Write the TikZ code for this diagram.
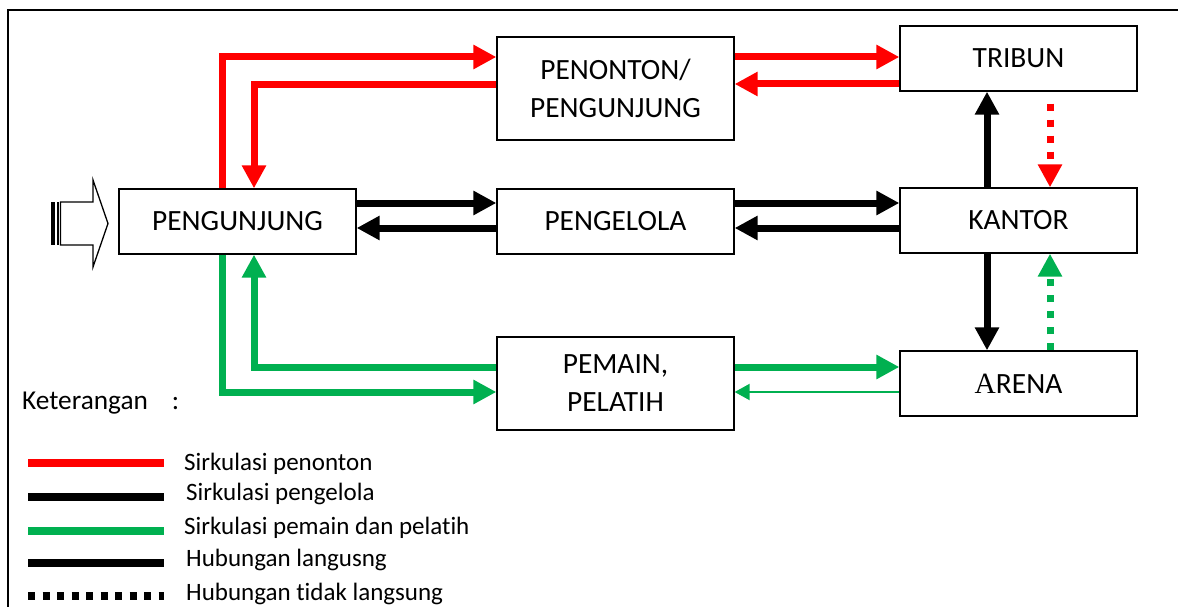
\documentclass[tikz,border=0pt]{standalone}
\usepackage{fontspec}
\setmainfont{Carlito}[Ligatures=NoCommon]
\newfontfamily\serifa{Liberation Serif}
\usetikzlibrary{arrows.meta}
\definecolor{xred}{RGB}{255,0,0}
\definecolor{xgreen}{RGB}{0,176,80}
\begin{document}
\begin{tikzpicture}[x=1pt,y=-1pt,
  box/.style={draw,line width=1.3pt,minimum width=237pt,inner sep=0pt,align=center,font=\fontsize{29.4}{38}\selectfont},
  flow/.style={line width=7pt,-{Triangle[length=23pt,width=23pt]}},
  thinflow/.style={line width=2pt,-{Triangle[length=15pt,width=16pt]}},
  dots/.style={line width=7pt,dash pattern=on 7pt off 9pt,-{Triangle[length=23pt,width=23pt]}},
  legline/.style={line width=8pt},
  legtext/.style={anchor=base west,inner sep=0pt,font=\fontsize{25}{30}\selectfont},
]
\useasboundingbox (0,0) rectangle (1178,607);
% frame
\draw[line width=1.3pt] (8,607) -- (8,10) -- (1178,10);

% boxes
\node[box,minimum height=65pt]  (pg) at (237.5,221.5) {PENGUNJUNG};
\node[box,minimum height=103pt] (pn) at (615.5,88.5) {PENONTON/\\PENGUNJUNG};
\node[box,minimum height=65pt]  (tr) at (1018.5,58.5) {TRIBUN};
\node[box,minimum height=65pt]  (pl) at (615.5,221.5) {PENGELOLA};
\node[box,minimum height=65pt]  (ka) at (1018.5,220.5) {KANTOR};
\node[box,minimum height=93pt]  (pm) at (615.5,383.5) {PEMAIN,\\PELATIH};
\node[box,minimum height=65pt]  (ar) at (1018.5,383.5) {{\serifa A}RENA};

% entry block arrow
\fill (51,202) rectangle (54.5,245);
\fill (56.5,202) rectangle (58.5,245);
\draw[line width=1.3pt,line join=miter] (60.5,202) -- (93,202) -- (93,180) -- (108,223.5) -- (93,267) -- (93,245) -- (60.5,245) -- cycle;

% red: penonton
\draw[flow,xred] ([xshift=-15.5pt]pg.north) |- ([yshift=31.5pt]pn.west);
\draw[flow,xred] ([yshift=3.5pt]pn.west) -| ([xshift=16.5pt]pg.north);
\draw[flow,xred] ([yshift=31.5pt]pn.east) -- ([yshift=1.5pt]tr.west);
\draw[flow,xred] ([yshift=-25.5pt]tr.west) -- ([yshift=4.5pt]pn.east);

% black: pengelola
\draw[flow] ([yshift=18.5pt]pg.east) -- ([yshift=18.5pt]pl.west);
\draw[flow] ([yshift=-6.5pt]pl.west) -- ([yshift=-6.5pt]pg.east);
\draw[flow] ([yshift=18.5pt]pl.east) -- ([yshift=17.5pt]ka.west);
\draw[flow] ([yshift=-7.5pt]ka.west) -- ([yshift=-6.5pt]pl.east);
\draw[flow] ([xshift=-31.5pt]ka.north) -- ([xshift=-31.5pt]tr.south);
\draw[flow] ([xshift=-31.5pt]ka.south) -- ([xshift=-31.5pt]ar.north);

% dotted: indirect
\draw[dots,xred] ([xshift=31.5pt,yshift=-12pt]tr.south) -- ([xshift=31.5pt]ka.north);
\draw[dots,xgreen] ([xshift=31.5pt]ar.north) -- ([xshift=31.5pt]ka.south);

% green: pemain
\draw[flow,xgreen] ([xshift=-15.5pt]pg.south) |- ([yshift=-8.5pt]pm.west);
\draw[flow,xgreen] ([yshift=16.5pt]pm.west) -| ([xshift=16.5pt]pg.south);
\draw[flow,xgreen] ([yshift=16.5pt]pm.east) -- ([yshift=16.5pt]ar.west);
\draw[thinflow,xgreen] ([yshift=-8.5pt]ar.west) -- ([yshift=-8.5pt]pm.east);

% legend
\node[legtext,font=\fontsize{27.3}{32}\selectfont] (ket) at (22,409) {Keterangan\hspace{24pt}:};
\draw[legline,xred]   (28,463) -- (164,463);
\draw[legline]        (28,497) -- (164,497);
\draw[legline,xgreen] (28,531) -- (164,531);
\draw[legline]        (28,563) -- (164,563);
\draw[legline,dash pattern=on 7pt off 7.5pt] (28,596) -- (164,596);
\node[legtext] (l1) at (184,470) {Sirkulasi penonton};
\node[legtext] (l2) at (186,500.5) {Sirkulasi pengelola};
\node[legtext] (l3) at (184,534) {Sirkulasi pemain dan pelatih};
\node[legtext] (l4) at (186,566.5) {Hubungan langusng};
\node[legtext] (l5) at (186,600) {Hubungan tidak langsung};
\end{tikzpicture}
\end{document}
